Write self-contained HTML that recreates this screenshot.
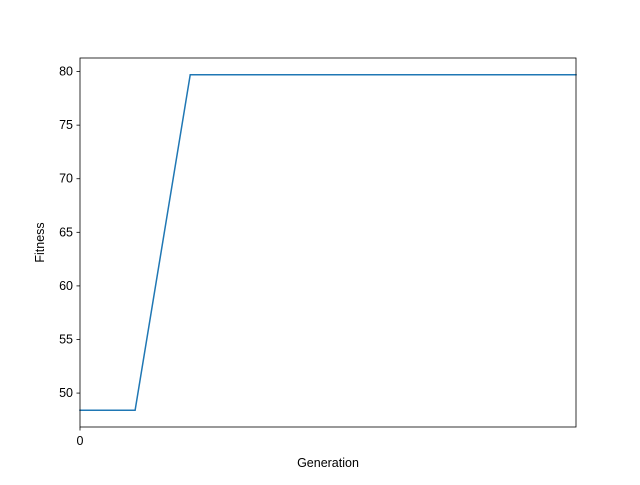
<!DOCTYPE html>
<html><head><meta charset="utf-8"><style>body{margin:0;background:#fff}</style></head>
<body>
<svg id="chart" width="640" height="480" xmlns="http://www.w3.org/2000/svg" font-family="Liberation Sans, DejaVu Sans, sans-serif">
<rect width="640" height="480" fill="#fff"/>
<g id="plot"></g>
</svg>
<script>
const generations = [0,1,2,3,4,5,6,7,8,9];
const fitness = [48.4,48.4,79.7,79.7,79.7,79.7,79.7,79.7,79.7,79.7];
const yTicks = [50,55,60,65,70,75,80];
const xTicks = [0];

const L=80,R=576,T=58,B=427;
const ns="http://www.w3.org/2000/svg";
const g=document.getElementById('plot');
const xmin=Math.min(...generations), xmax=Math.max(...generations);
const fmin=Math.min(...fitness), fmax=Math.max(...fitness);
const pad=(fmax-fmin)*0.05||1;
const ymin=fmin-pad, ymax=fmax+pad;
const sx=v=>L+(v-xmin)/((xmax-xmin)||1)*(R-L);
const sy=v=>B-(v-ymin)/(ymax-ymin)*(B-T);
function mk(tag,attrs){const e=document.createElementNS(ns,tag);for(const k in attrs)e.setAttribute(k,attrs[k]);g.appendChild(e);return e;}

const line=mk('polyline',{points:generations.map((x,i)=>sx(x)+','+sy(fitness[i])).join(' '),fill:'none',stroke:'#1f77b4','stroke-width':1.5,'stroke-linecap':'square'});



const frame=mk('rect',{x:L,y:T,width:R-L,height:B-T,fill:'none',stroke:'#000','stroke-width':0.8});



yTicks.forEach(v=>{
  const y=sy(v);
  const t=mk('line',{x1:L-3.5,x2:L,y1:y,y2:y,stroke:'#000','stroke-width':0.8});
  
  
  const l=mk('text',{x:L-7,y:y+4,'text-anchor':'end','font-size':12.5,fill:'#000'});
  l.textContent=v;
  
  
});
xTicks.forEach(v=>{
  const x=sx(v);
  const t=mk('line',{x1:x,x2:x,y1:B,y2:B+3.5,stroke:'#000','stroke-width':0.8});
  
  
  const l=mk('text',{x:x,y:B+18,'text-anchor':'middle','font-size':12.5,fill:'#000'});
  l.textContent=v;
  
  
});
const xt=mk('text',{x:(L+R)/2,y:467,'text-anchor':'middle','font-size':12.5,fill:'#000'});
xt.textContent='Generation';


const yt=mk('text',{x:0,y:0,transform:'translate(44,'+((T+B)/2)+') rotate(-90)','text-anchor':'middle','font-size':12.5,fill:'#000'});
yt.textContent='Fitness';


</script>
</body></html>
